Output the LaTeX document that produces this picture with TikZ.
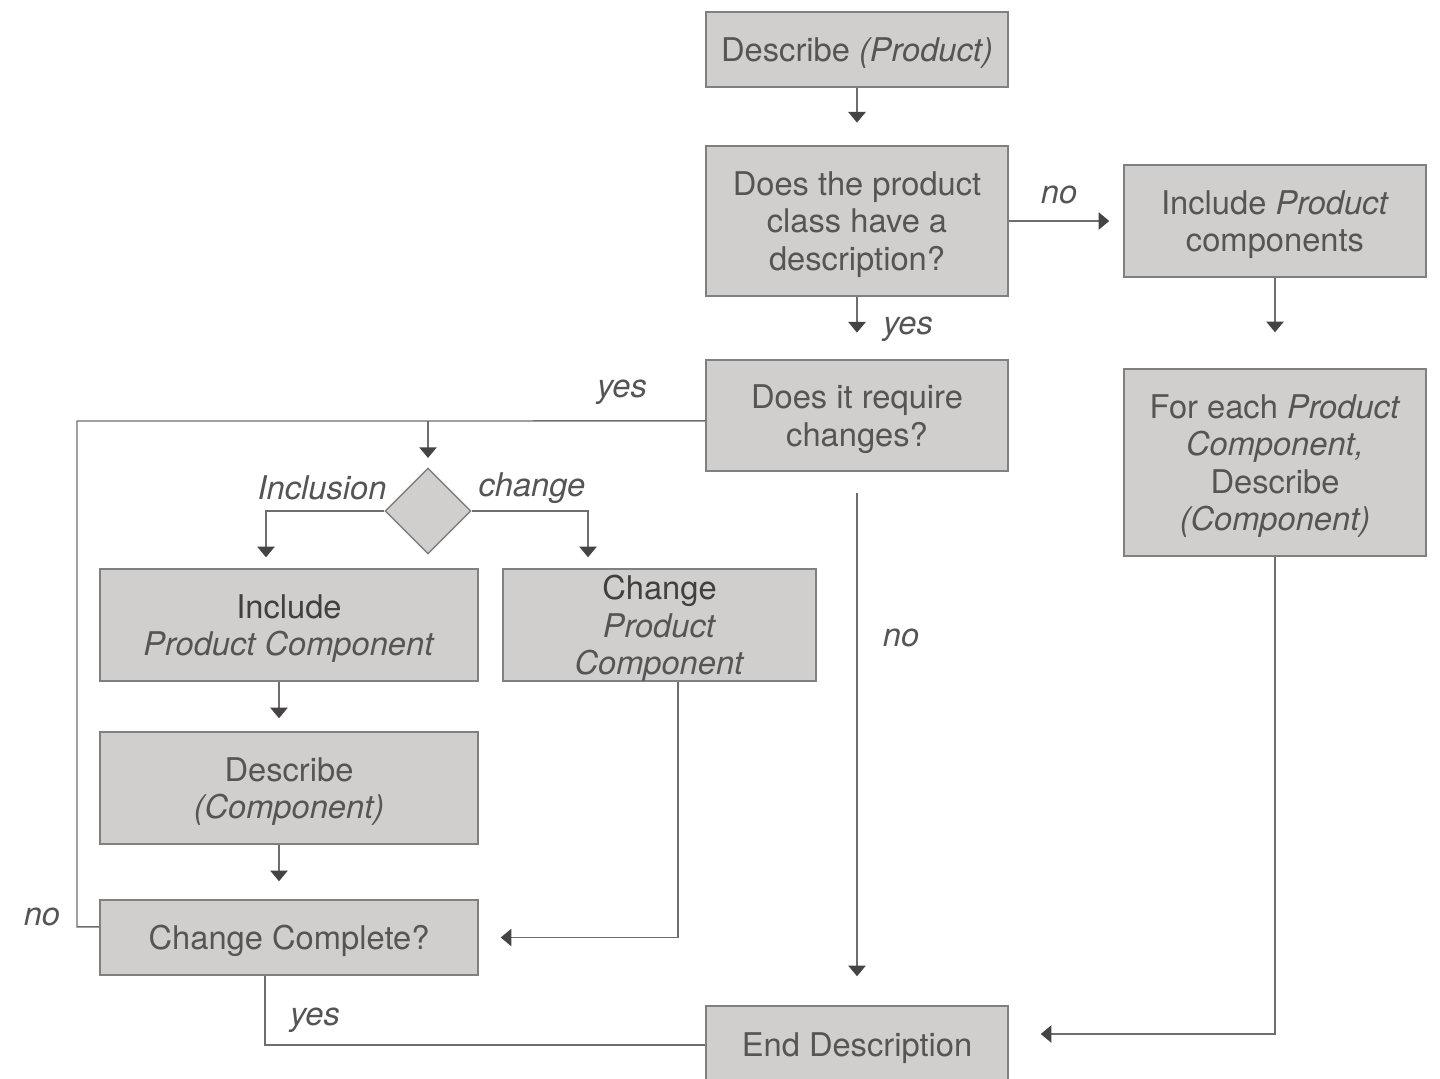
\documentclass[tikz,border=0pt]{standalone}
\usepackage{fontspec}
\setmainfont{TeX Gyre Heros}
\usetikzlibrary{arrows.meta,shapes.geometric}
\definecolor{boxfill}{HTML}{D0CFCE}
\definecolor{boxline}{HTML}{808080}
\definecolor{txt}{HTML}{555555}
\definecolor{wire}{HTML}{6E6E6E}
\definecolor{tip}{HTML}{454343}
\begin{document}
\begin{tikzpicture}[x=0.75pt,y=-0.75pt,
  every node/.style={font=\fontsize{24.5}{28}\selectfont, text=txt},
  box/.style={draw=boxline, fill=boxfill, line width=1.1pt, align=center, inner sep=2pt, text depth=0pt},
  lbl/.style={font=\fontsize{24.5}{28}\selectfont\itshape},
  wirel/.style={draw=wire, line width=1.1pt},
  arr/.style={wirel, -{Triangle[length=8pt,width=13pt,fill=tip,color=tip]}},
  dia/.style={diamond, draw=boxline, fill=boxfill, line width=1.1pt, minimum width=64.5pt, minimum height=64.5pt, inner sep=0pt}]
\useasboundingbox (0,0) rectangle (1440,1079);
\clip (0,0) rectangle (1440,1079);

% boxes
\node[box, minimum width=226.5pt, minimum height=56.25pt] (b1) at (857,49.5) {Describe \textit{(Product)}};
\node[box, minimum width=226.5pt, minimum height=112.5pt] (b2) at (857,221) {Does the product\\class have a\\description?};
\node[box, minimum width=226.5pt, minimum height=84pt] (b3) at (1275,221) {Include \textit{Product}\\components};
\node[box, minimum width=226.5pt, minimum height=140.25pt] (b4) at (1275,462.5) {For each \textit{Product}\\\textit{Component,}\\Describe\\\textit{(Component)}};
\node[box, minimum width=226.5pt, minimum height=83.25pt] (b5) at (857,415.5) {Does it require\\changes?};
\node[dia] (d) at (428,511) {};
\node[box, minimum width=283.5pt, minimum height=84pt] (b6) at (289,625) {{\color{black!75}Include}\\\textit{Product Component}};
\node[box, minimum width=234.75pt, minimum height=84pt] (b7) at (659.5,625) {{\color{black!75}Change}\\\textit{Product}\\\textit{Component}};
\node[box, minimum width=283.5pt, minimum height=84pt] (b8) at (289,788) {Describe\\\textit{(Component)}};
\node[box, minimum width=283.5pt, minimum height=56.25pt] (b9) at (289,937.5) {Change Complete?};
\node[box, minimum width=226.5pt, minimum height=58.5pt] (end) at (857,1045) {End Description};

\coordinate (junc) at (428,421);

% connectors
\draw[arr, shorten >=17pt] (b1.south) -- (b2.north);
\draw[arr, shorten >=10.5pt] (b2.east) -- (b3.west);
\draw[arr, shorten >=27pt] (b3.south) -- (b4.north);
\draw[arr, shorten >=20pt] (b2.south) -- (b5.north);
\draw[arr, shorten <=15.75pt, shorten >=21.75pt] (b5.south) -- (end.north);
\draw[arr, shorten >=24pt] (b4.south) |- ([yshift=8.25pt]end.east);
\draw[wirel] ([yshift=7.9pt]b9.west) -| (77,421) -- ([yshift=-4.1pt]b5.west);
\draw[arr, shorten >=7pt] (junc) -- (d.north);
\draw[arr, shorten >=8.25pt] (d.west) -| ([xshift=-17.25pt]b6.north);
\draw[arr, shorten >=8.25pt] (d.east) -| ([xshift=-53.6pt]b7.north);
\draw[arr, shorten >=9.75pt] ([xshift=-7.5pt]b6.south) -- ([xshift=-7.5pt]b8.north);
\draw[arr, shorten >=13.5pt] ([xshift=-7.5pt]b8.south) -- ([xshift=-7.5pt]b9.north);
\draw[arr, shorten >=16.5pt] ([xshift=13.9pt]b7.south) |- (b9.east);
\draw[wirel] ([xshift=-18pt]b9.south) |- (end.west);

% labels
\node[lbl] at (1059,195) {no};
\node[lbl] at (908,329) {yes};
\node[lbl] at (901,638) {no};
\node[lbl] at (622,392) {yes};
\node[lbl] at (42,917) {no};
\node[lbl] at (322,488) {Inclusion};
\node[lbl] at (532,488) {change};
\node[lbl] at (315,1020) {yes};
\end{tikzpicture}
\end{document}
